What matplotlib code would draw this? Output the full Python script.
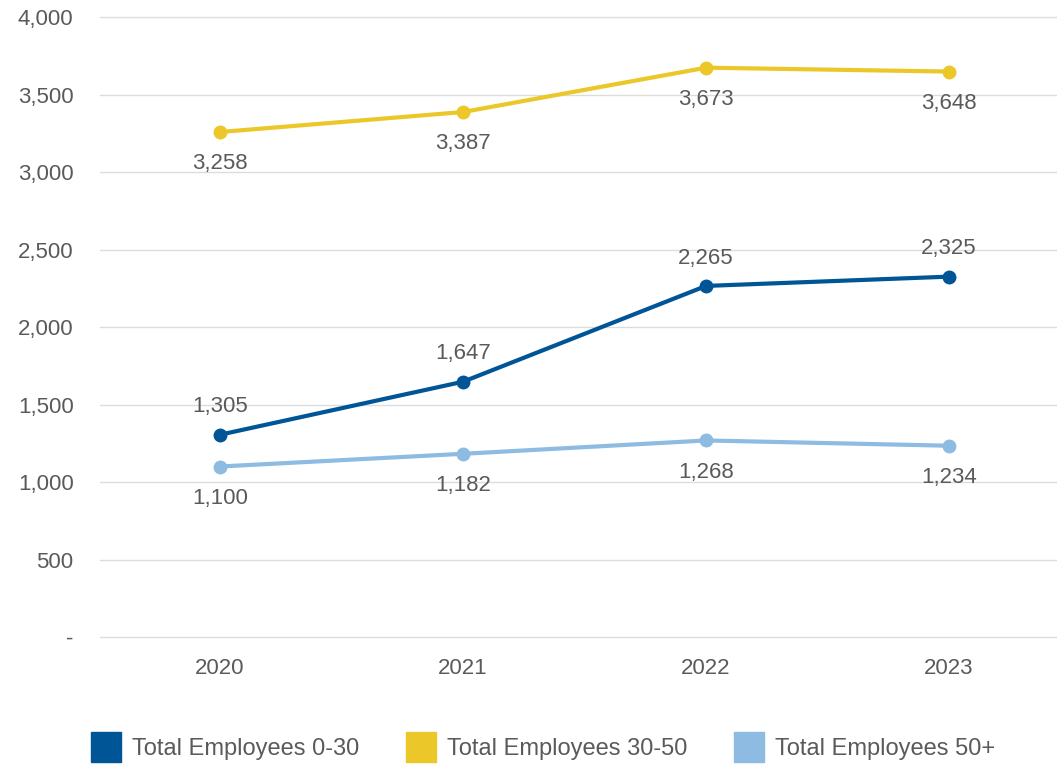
import numpy as np
import matplotlib.pyplot as plt
from matplotlib.lines import Line2D

plt.rcParams['font.family'] = ['Liberation Sans', 'DejaVu Sans']

# 데이터
years = ['2020', '2021', '2022', '2023']
emp_0_30 = [1305, 1647, 2265, 2325]
emp_30_50 = [3258, 3387, 3673, 3648]
emp_50_plus = [1100, 1182, 1268, 1234]
series_names = ['Total Employees 0-30', 'Total Employees 30-50', 'Total Employees 50+']
yticks = [0, 500, 1000, 1500, 2000, 2500, 3000, 3500, 4000]

colors = ['#005596', '#ecc72a', '#8dbbe1']
text_gray = '#5a5a5a'

fig = plt.figure(figsize=(10.57, 7.66), dpi=100)
ax = fig.add_axes([0.0946, 0.1684, 0.9054, 0.8094])

x = np.arange(len(years))
# (데이터, 색, 라벨 오프셋: 양수=위, 음수=아래)
for vals, c, off in [(emp_30_50, colors[1], -23), (emp_0_30, colors[0], 20), (emp_50_plus, colors[2], -23)]:
    ax.plot(x, vals, color=c, lw=3, marker='o', markersize=9, solid_capstyle='round', zorder=3)
    for xi, v in zip(x, vals):
        ax.annotate(f'{v:,}', (xi, v), xytext=(0, off), textcoords='offset points',
                    ha='center', va='center', fontsize=16, color=text_gray)

ax.set_xlim(-0.494, 3.444)
ax.set_ylim(0, 4000)
ax.set_xticks(x)
ax.set_xticklabels(years)
ax.set_yticks(yticks)
ax.set_yticklabels(['-' if t == 0 else f'{t:,}' for t in yticks])
ax.tick_params(axis='both', length=0, labelsize=16, labelcolor=text_gray)
ax.tick_params(axis='y', pad=19)
ax.tick_params(axis='x', pad=15)
ax.grid(axis='y', color='#dcdcdc', lw=1)
for gl in ax.get_ygridlines():
    gl.set_clip_on(False)
ax.set_axisbelow(True)
for s in ax.spines.values():
    s.set_visible(False)

handles = [Line2D([], [], marker='s', linestyle='none', markersize=21, color=c) for c in colors]
fig.legend(handles, series_names, loc='lower left', bbox_to_anchor=(0.067, -0.02), ncol=3,
           frameon=False, fontsize=17, labelcolor=text_gray, handlelength=1.2,
           handletextpad=0.5, columnspacing=2.0)

fig.savefig('out.png', dpi=100)
